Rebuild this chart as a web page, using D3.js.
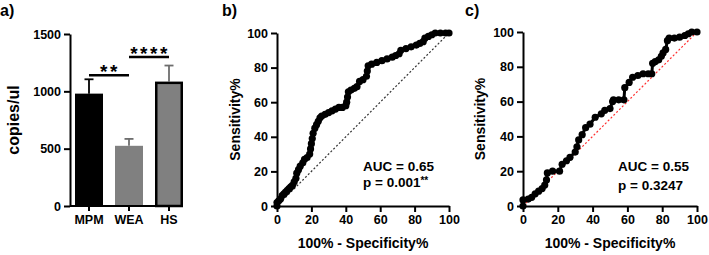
<!DOCTYPE html>
<html>
<head>
<meta charset="utf-8">
<script src="https://cdn.jsdelivr.net/npm/d3@7"></script>
<style>
  body { margin: 0; background: #fff; }
  text { font-family: "Liberation Sans", Arial, sans-serif; font-weight: bold; }
</style>
</head>
<body>
<div id="canvas"></div>
<script>
"use strict"

/* Data: panel a (bar chart) */
let barCats = ["MPM", "WEA", "HS"];
let barMeans = [980, 525, 1085];
let barUpper = [1105, 585, 1225]; // top of error bar
let barTicks = [0, 500, 1000, 1500];

/* Data: panel b ROC curve */
let fprB = [0,0,1,2,3,4,5,6,7,8,9,10,11,11.5,12.5,13.5,15,16,17.5,19,19.5,20,20.5,21,22,23,24,25,26,28,30,32,34,36,38,40,40.5,41,41.5,43,45,46.5,48,50,52,52.5,53,55,58,61,64,67,69,71,72,75,78,81,83,85,86,88,90,92,95,98,100];
let tprB = [0,2,3,4,6,7,8,9,10,11,12,14,16,19,21,23,25,27,28,30,33,36,39,42,45,47,49,51,52,53,54,55,56,57,57,58,60,63,66,67,68,69,72,73,75,78,81,82,83,84,85,86,87,88,90,91,92,93,94,95,97,98,99,100,100,100,100];

/* Data: panel c ROC curve */
let fprC = [0,0,3,5,7,9,11,12.5,13.5,14,17,21,22.5,25,27,30,31,32,34,36,38.5,41.5,45,47,50,51.5,52,55,58,58.5,61,63,66,69,72,74,74.5,76,78,79.5,80.5,82,83,84,87,90,93,95,97,100];
let tprC = [0,3.5,4,5,7,8.5,10,12,15,19,20,20,24,26,28,31,34,38,41,45,47,51,53,55,56,60,61,61,61,68,71,74,75,76,76,76,82,83,84,86,88,90,95,96.5,96.5,97,98,99,100,100];

let rocTicks = [0, 20, 40, 60, 80, 100];

/* Canvas */
let svgWidth = 709;
let svgHeight = 255;

let svg = d3.select("#canvas")
    .append("svg")
    .attr("width", svgWidth)
    .attr("height", svgHeight);

function styleAxis(g) {
    g.select(".domain").attr("stroke", "black").attr("stroke-width", 2);
    g.selectAll(".tick line").attr("stroke", "black").attr("stroke-width", 2);
    g.selectAll(".tick text")
        .attr("fill", "black")
        .style("font-size", "12.5px")
        .style("font-family", "'Liberation Sans', Arial, sans-serif")
        .style("font-weight", "bold");
}

/**** Panel a: bars ****/
let aBottom = 206, aTop = 34, aAxisX = 70;

let yA = d3.scaleLinear()
    .domain([0, 1500])
    .range([aBottom, aTop]);

let xA = d3.scaleBand()
    .domain(barCats)
    .range([75, 183])
    .paddingInner(0.3)
    .paddingOuter(0);

let bars = barCats.map((c, i) => ({ cat: c, mean: barMeans[i], upper: barUpper[i] }));
let barFill = { MPM: "#000000", WEA: "#808080", HS: "#808080" };
let errColor = { MPM: "#000000", WEA: "#6e6e6e", HS: "#6e6e6e" };

// error bars (upper only)
svg.selectAll("line.err")
    .data(bars)
    .join("line")
    .attr("class", "err")
    .attr("x1", d => xA(d.cat) + xA.bandwidth() / 2)
    .attr("x2", d => xA(d.cat) + xA.bandwidth() / 2)
    .attr("y1", d => yA(d.mean))
    .attr("y2", d => yA(d.upper))
    .attr("stroke", d => errColor[d.cat])
    .attr("stroke-width", 1.8);

svg.selectAll("line.cap")
    .data(bars)
    .join("line")
    .attr("class", "cap")
    .attr("x1", d => xA(d.cat) + xA.bandwidth() / 2 - 4.5)
    .attr("x2", d => xA(d.cat) + xA.bandwidth() / 2 + 4.5)
    .attr("y1", d => yA(d.upper))
    .attr("y2", d => yA(d.upper))
    .attr("stroke", d => errColor[d.cat])
    .attr("stroke-width", 1.8);

svg.selectAll("rect.bar")
    .data(bars)
    .join("rect")
    .attr("class", "bar")
    .attr("x", d => xA(d.cat) + (d.cat === "HS" ? 1.25 : 0))
    .attr("width", d => xA.bandwidth() - (d.cat === "HS" ? 2.5 : 0))
    .attr("y", d => yA(d.mean) + (d.cat === "HS" ? 1.25 : 0))
    .attr("height", d => aBottom - yA(d.mean) - (d.cat === "HS" ? 1.25 : 0))
    .attr("fill", d => barFill[d.cat])
    .attr("stroke", d => d.cat === "HS" ? "black" : "none")
    .attr("stroke-width", 2.5);

svg.append("g")
    .attr("transform", "translate(" + aAxisX + ",0)")
    .call(d3.axisLeft(yA).tickValues(barTicks).tickFormat(d3.format("d"))
        .tickSize(6).tickSizeOuter(0).tickPadding(3))
    .call(styleAxis);

let xAxisA = svg.append("g")
    .attr("transform", "translate(0," + aBottom + ")")
    .call(d3.axisBottom(xA).tickSize(5).tickSizeOuter(0).tickPadding(4))
    .call(styleAxis);
xAxisA.select(".domain").attr("d", "M" + aAxisX + ",0H178");

// significance brackets
let sig = [
    { from: "MPM", to: "WEA", y: 1140, label: "**" },
    { from: "WEA", to: "HS", y: 1300, label: "****" }
];
svg.selectAll("line.sig")
    .data(sig)
    .join("line")
    .attr("class", "sig")
    .attr("x1", d => xA(d.from) + xA.bandwidth() / 2)
    .attr("x2", d => xA(d.to) + xA.bandwidth() / 2)
    .attr("y1", d => yA(d.y))
    .attr("y2", d => yA(d.y))
    .attr("stroke", "black")
    .attr("stroke-width", 2.5);

svg.selectAll("text.sig")
    .data(sig)
    .join("text")
    .attr("class", "sig")
    .attr("x", d => (xA(d.from) + xA(d.to) + xA.bandwidth()) / 2 + 1)
    .attr("y", d => yA(d.y) + 3)
    .attr("text-anchor", "middle")
    .style("font-size", "19px")
    .style("letter-spacing", "2.5px")
    .text(d => d.label);

svg.append("text")
    .attr("transform", "translate(19,120) rotate(-90)")
    .attr("text-anchor", "middle")
    .style("font-size", "16px")
    .text("copies/ul");

svg.append("text")
    .attr("x", 0)
    .attr("y", 16)
    .style("font-size", "16px")
    .text("a)");

/**** ROC panels ****/
function rocPanel(opt) {
    let x = d3.scaleLinear().domain([0, 100]).range([opt.left, opt.right]);
    let y = d3.scaleLinear().domain([0, 100]).range([opt.bottom, opt.top]);
    let g = svg.append("g");

    // chance line
    g.append("line")
        .attr("x1", x(0)).attr("y1", y(0))
        .attr("x2", x(100)).attr("y2", y(100))
        .attr("stroke", opt.diag)
        .attr("stroke-width", 1.2)
        .attr("stroke-dasharray", "2,2");

    g.append("g")
        .attr("transform", "translate(" + opt.left + ",0)")
        .call(d3.axisLeft(y).tickValues(rocTicks).tickSize(6).tickSizeOuter(0).tickPadding(3))
        .call(styleAxis);

    g.append("g")
        .attr("transform", "translate(0," + opt.bottom + ")")
        .call(d3.axisBottom(x).tickValues(rocTicks).tickSize(6).tickSizeOuter(0).tickPadding(3))
        .call(styleAxis);

    let pts = opt.fpr.map((v, i) => [v, opt.tpr[i]]);

    g.append("path")
        .datum(pts)
        .attr("fill", "none")
        .attr("stroke", "black")
        .attr("stroke-width", 3)
        .attr("d", d3.line().x(d => x(d[0])).y(d => y(d[1])));

    g.selectAll("circle")
        .data(pts)
        .join("circle")
        .attr("cx", d => x(d[0]))
        .attr("cy", d => y(d[1]))
        .attr("r", 3.6)
        .attr("fill", "black");

    g.append("text")
        .attr("transform", "translate(" + opt.yLabelX + "," + ((opt.top + opt.bottom) / 2) + ") rotate(-90)")
        .attr("text-anchor", "middle")
        .style("font-size", "14px")
        .text("Sensitivity%");

    g.append("text")
        .attr("x", (opt.left + opt.right) / 2)
        .attr("y", 248)
        .attr("text-anchor", "middle")
        .style("font-size", "14px")
        .text("100% - Specificity%");

    g.append("text")
        .attr("x", opt.statX)
        .attr("y", 171)
        .style("font-size", "13.5px")
        .text(opt.auc);

    let p = g.append("text")
        .attr("x", opt.statX)
        .attr("y", opt.pY)
        .style("font-size", "13.5px")
        .text(opt.p);
    if (opt.pStars) {
        p.append("tspan")
            .attr("dy", -3)
            .style("font-size", "10px")
            .text(opt.pStars);
    }

    g.append("text")
        .attr("x", opt.letterX)
        .attr("y", 16)
        .style("font-size", "16px")
        .text(opt.letter);
}

rocPanel({
    left: 277, right: 449, top: 33, bottom: 206,
    fpr: fprB, tpr: tprB, diag: "#333",
    yLabelX: 240, statX: 363, pY: 187,
    auc: "AUC = 0.65", p: "p = 0.001", pStars: "**",
    letter: "b)", letterX: 222
});

rocPanel({
    left: 523, right: 697, top: 32, bottom: 206,
    fpr: fprC, tpr: tprC, diag: "#ff3030",
    yLabelX: 485, statX: 618, pY: 190,
    auc: "AUC = 0.55", p: "p = 0.3247", pStars: null,
    letter: "c)", letterX: 465
});
</script>
</body>
</html>
